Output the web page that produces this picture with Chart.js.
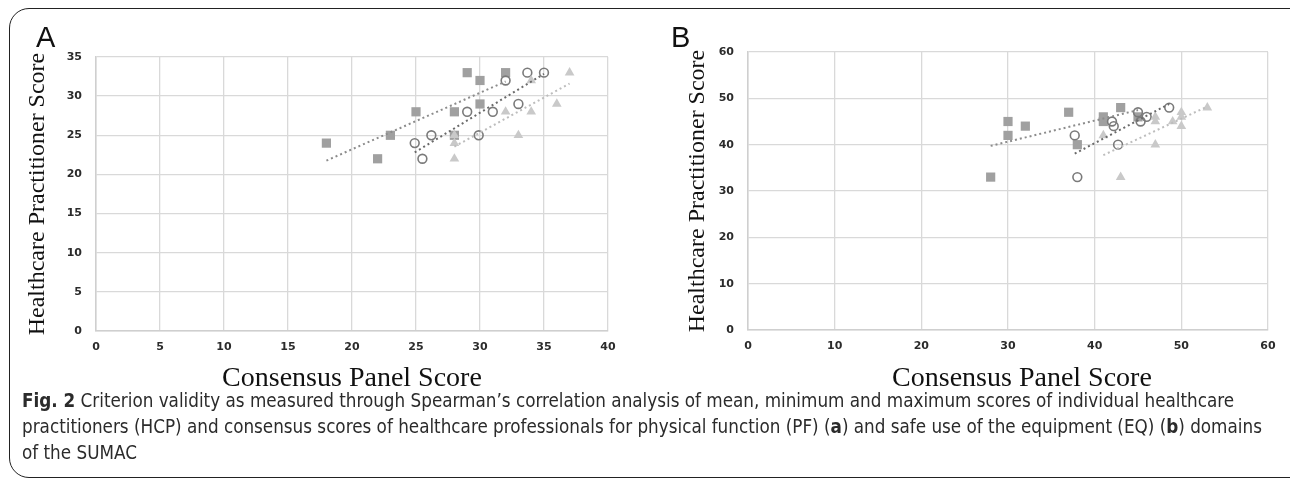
<!DOCTYPE html>
<html>
<head>
<meta charset="utf-8">
<script src="https://cdn.jsdelivr.net/npm/chart.js@4.4.1/dist/chart.umd.min.js"></script>
<style>
  body { margin: 0; width: 1290px; height: 481px; overflow: hidden; background: #fff; position: relative; }
  .frame { position: absolute; left: 9px; top: 8px; width: 1320px; height: 468px; border: 1.5px solid #222; border-radius: 20px; }
  .tag { position: absolute; top: 23px; font: 29px/29px "Liberation Sans", Arial, sans-serif; color: #111; }
  canvas { position: absolute; top: 0; }
  .caption { position: absolute; left: 22px; top: 388px; font: 18.7px/26px "Liberation Sans Narrow", "DejaVu Sans Condensed", sans-serif; color: #2b2b2b; white-space: nowrap; }
</style>
</head>
<body>
<div class="frame"></div>
<canvas id="chartA" width="650" height="400" style="left:0px"></canvas>
<canvas id="chartB" width="640" height="400" style="left:650px"></canvas>
<div class="tag" style="left:36px">A</div>
<div class="tag" style="left:671px">B</div>
<div class="caption"><b>Fig. 2</b> Criterion validity as measured through Spearman’s correlation analysis of mean, minimum and maximum scores of individual healthcare<br>practitioners (HCP) and consensus scores of healthcare professionals for physical function (PF) (<b>a</b>) and safe use of the equipment (EQ) (<b>b</b>) domains<br>of the SUMAC</div>
<script>
// panel A - physical function
let aSquareX = [18, 22, 23, 25, 28, 28, 29, 30, 30, 32];
let aSquareY = [24, 22, 25, 28, 28, 25, 33, 32, 29, 33];
let aCircleX = [24.9, 25.5, 26.2, 29, 29.9, 31, 32, 33, 33.7, 35];
let aCircleY = [24, 22, 25, 28, 25, 28, 32, 29, 33, 33];
let aTriX = [28, 28, 28, 32, 33, 34, 34, 36, 37];
let aTriY = [25, 24, 22, 28, 25, 28, 32, 29, 33];

// panel B - safe use of the equipment
let bSquareX = [28, 30, 30, 32, 37, 38, 41, 41, 43, 45];
let bSquareY = [33, 45, 42, 44, 47, 40, 46, 45, 48, 46];
let bCircleX = [37.7, 38, 42, 42.2, 42.7, 45, 45.3, 46, 48.6];
let bCircleY = [42, 33, 45, 44, 40, 47, 45, 46, 48];
let bTriX = [41, 43, 47, 47, 47, 49, 50, 50, 50, 53];
let bTriY = [42, 33, 46, 45, 40, 45, 47, 46, 44, 48];

let xTitle = "Consensus Panel Score";
let yTitle = "Healthcare Practitioner Score";

let grey = {
  square: "#a0a0a0",
  circle: "#7a7a7a",
  triangle: "#c9c9c9",
  squareLine: "#8c8c8c",
  circleLine: "#6a6a6a",
  triangleLine: "#bdbdbd",
};

function pts(xs, ys) {
  return xs.map((x, i) => ({ x: x, y: ys[i] }));
}

// least squares line between min and max x, like the excel trendline
function trend(xs, ys) {
  let n = xs.length;
  let mx = xs.reduce((a, b) => a + b, 0) / n;
  let my = ys.reduce((a, b) => a + b, 0) / n;
  let sxy = 0, sxx = 0;
  xs.forEach((x, i) => {
    sxy += (x - mx) * (ys[i] - my);
    sxx += (x - mx) * (x - mx);
  });
  let k = sxy / sxx;
  let c = my - k * mx;
  let lo = Math.min(...xs), hi = Math.max(...xs);
  return [{ x: lo, y: c + k * lo }, { x: hi, y: c + k * hi }];
}

function lineSet(data, color) {
  return {
    type: 'line',
    data: data,
    borderColor: color,
    borderWidth: 2,
    borderDash: [2, 3],
    pointRadius: 0,
    fill: false,
  };
}

function markSet(data, style, color, open) {
  return {
    type: 'scatter',
    data: data,
    pointStyle: style,
    pointRadius: style == 'rect' ? 6.5 : (style == 'triangle' ? 5.6 : 4.4),
    pointBackgroundColor: open ? "rgba(0,0,0,0)" : color,
    pointBorderColor: color,
    pointBorderWidth: open ? 1.6 : 0,
  };
}

function createChart(id, d, ax) {
  let tickFont = { family: "DejaVu Sans", weight: "bold", size: 11 };
  return new Chart(document.getElementById(id), {
    type: 'scatter',
    data: {
      datasets: [
        lineSet(trend(d.sx, d.sy), grey.squareLine),
        lineSet(trend(d.cx, d.cy), grey.circleLine),
        lineSet(trend(d.tx, d.ty), grey.triangleLine),
        markSet(pts(d.tx, d.ty), 'triangle', grey.triangle, false),
        markSet(pts(d.cx, d.cy), 'circle', grey.circle, true),
        markSet(pts(d.sx, d.sy), 'rect', grey.square, false),
      ],
    },
    options: {
      responsive: false,
      animation: false,
      events: [],
      layout: { padding: { left: 0, right: ax.padRight, top: ax.top, bottom: ax.padBottom } },
      plugins: { legend: { display: false }, tooltip: { enabled: false } },
      scales: {
        x: {
          type: 'linear',
          min: 0, max: ax.xMax,
          ticks: { stepSize: ax.xStep, font: tickFont, color: "#2b2b2b", padding: 10 },
          grid: { color: "#d9d9d9", lineWidth: 1.3, drawTicks: false },
          border: { color: "#cfcfcf", width: 1.5 },
          title: { display: true, text: ax.xLabel, font: { family: "Liberation Serif", size: 28 }, color: "#111", padding: { top: 0, bottom: 0 } },
          afterFit: s => { s.height = ax.xHeight; },
        },
        y: {
          type: 'linear',
          min: 0, max: ax.yMax,
          ticks: { stepSize: ax.yStep, font: tickFont, color: "#2b2b2b", padding: 14 },
          grid: { color: "#d9d9d9", lineWidth: 1.3, drawTicks: false },
          border: { color: "#cfcfcf", width: 1.5 },
          title: { display: true, text: yTitle, font: { family: "Liberation Serif", size: 24 }, color: "#111", padding: { top: ax.yTitlePad, bottom: 0 } },
          afterFit: s => { s.width = ax.yWidth; },
        },
      },
    },
  });
}

createChart('chartA',
  { sx: aSquareX, sy: aSquareY, cx: aCircleX, cy: aCircleY, tx: aTriX, ty: aTriY },
  { xMax: 40, xStep: 5, yMax: 35, yStep: 5, yWidth: 96, top: 57, padRight: 42, xHeight: 64, padBottom: 5, yTitlePad: 23, xLabel: xTitle });

// the title in B sits a little right of the plot centre
createChart('chartB',
  { sx: bSquareX, sy: bSquareY, cx: bCircleX, cy: bCircleY, tx: bTriX, ty: bTriY },
  { xMax: 60, xStep: 10, yMax: 60, yStep: 10, yWidth: 98, top: 52, padRight: 22, xHeight: 65, padBottom: 5, yTitlePad: 33, xLabel: "    " + xTitle });
</script>
</body>
</html>
